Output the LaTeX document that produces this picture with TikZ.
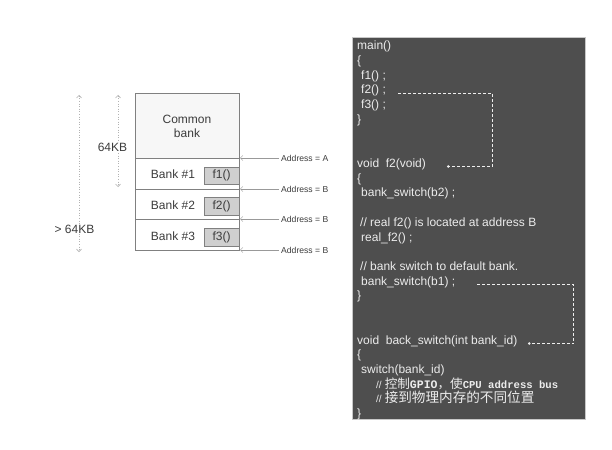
\documentclass[tikz,border=0pt]{standalone}
\usepackage{fontspec}
\setmainfont{Liberation Sans}
\newfontfamily\cjk{Noto Sans CJK SC}
\newfontfamily\monob{Liberation Mono}
\usetikzlibrary{arrows.meta}
\definecolor{panel}{HTML}{4E4E4E}
\definecolor{panelborder}{HTML}{C8C8C8}
\definecolor{codetxt}{HTML}{ECECEC}
\definecolor{labtxt}{HTML}{3C3C3C}
\definecolor{boxline}{HTML}{808080}
\definecolor{fbox}{HTML}{CFCFCF}
\tikzset{
  code/.style={anchor=mid west, inner sep=0pt, text=codetxt, font=\fontsize{12}{14}\selectfont},
  memtext/.style={text=labtxt, font=\fontsize{12}{14}\selectfont, inner sep=0pt, align=center},
  fcall/.style={draw=boxline, fill=fbox, minimum width=35pt, minimum height=17.5pt, inner sep=0pt, text=labtxt, font=\fontsize{12}{14}\selectfont},
  addrlab/.style={anchor=west, inner sep=2pt, text=labtxt, font=\fontsize{8.6}{10}\selectfont},
  addrarrow/.style={draw=gray!80, line width=0.5pt, -{Straight Barb[length=2.5pt,width=5pt]}},
  sizearrow/.style={draw=gray!60, line width=0.6pt, dotted, {Straight Barb[length=2.5pt,width=5pt]}-{Straight Barb[length=2.5pt,width=5pt]}},
  jump/.style={draw=codetxt!90, line width=0.8pt, dash pattern=on 3pt off 2pt, -{Circle[length=2.5pt]}},
}
\newcommand{\cjkA}[1]{{\cjk\fontsize{12.6}{14}\selectfont #1}}
\newcommand{\cjkB}[1]{{\cjk\fontsize{13.6}{14}\selectfont #1}}
\newcommand{\monoA}[1]{{\monob\bfseries\fontsize{11.5}{14}\selectfont #1}}
\newcommand{\monoB}[1]{{\monob\bfseries\fontsize{10.6}{14}\selectfont #1}}
\newcommand{\slashes}{{\fontsize{10}{14}\selectfont //}\hspace{3pt}}
\begin{document}
\begin{tikzpicture}[x=1pt,y=-1pt]
\useasboundingbox (0,0) rectangle (612,449);
\fill[white] (0,0) rectangle (612,449);

% ---------- memory map ----------
\draw[boxline, fill=gray!6] (135,93) rectangle (239,158);
\node[memtext] (common) at (187,126) {Common\\bank};
\coordinate (cse) at (239,158);
\draw[boxline, fill=white] (135,158) rectangle (239,189);
\draw[boxline, fill=white] (135,189) rectangle (239,219);
\draw[boxline, fill=white] (135,219) rectangle (239,250);
\coordinate (b1se) at (239,189);
\coordinate (b2se) at (239,219);
\coordinate (b3se) at (239,250);
\node[memtext] (bank1) at (173,174.5) {Bank \#1};
\node[memtext] (bank2) at (173,205) {Bank \#2};
\node[memtext] (bank3) at (173,236) {Bank \#3};
\node[fcall] (f1) at (221.5,175.5) {f1()};
\node[fcall] (f2) at (221.5,206) {f2()};
\node[fcall] (f3) at (221.5,237) {f3()};

% address labels and arrows
\node[addrlab] (addrA) at (279,158) {Address = A};
\node[addrlab] (addrB1) at (279,189) {Address = B};
\node[addrlab] (addrB2) at (279,219) {Address = B};
\node[addrlab] (addrB3) at (279,250) {Address = B};
\draw[addrarrow] (addrA.west) -- ([xshift=1pt]cse);
\draw[addrarrow] (addrB1.west) -- ([xshift=1pt]b1se);
\draw[addrarrow] (addrB2.west) -- ([xshift=1pt]b2se);
\draw[addrarrow] (addrB3.west) -- ([xshift=1pt]b3se);

% size arrows
\coordinate (s1t) at (118,95);
\coordinate (s1b) at (118,187);
\coordinate (s2t) at (79,95);
\coordinate (s2b) at (79,252);
\draw[sizearrow] (s1t) -- (s1b);
\draw[sizearrow] (s2t) -- (s2b);
\node[memtext, fill=white, inner sep=1pt] (kb64) at (112.5,147) {64KB};
\node[memtext, fill=white, inner sep=1pt] (kbmore) at (74.5,229) {> 64KB};

% ---------- code panel ----------
\draw[panelborder, line width=1pt, fill=panel] (352,37.5) rectangle (585.5,419.5);
\def\ly#1{47+14.72*#1}
\node[code] (c0) at (357,{\ly{0}}) {main()};
\node[code] (c1) at (357,{\ly{1}}) {\{};
\node[code] (c2) at (361,{\ly{2}}) {f1() ;};
\node[code] (c3) at (361,{\ly{3}}) {f2() ;};
\node[code] (c4) at (361,{\ly{4}}) {f3() ;};
\node[code] (c5) at (357,{\ly{5}}) {\}};
\node[code] (c8) at (357,{\ly{8}}) {void\ \ f2(void)};
\node[code] (c9) at (357,{\ly{9}}) {\{};
\node[code] (c10) at (361,{\ly{10}}) {bank\_switch(b2) ;};
\node[code] (c12) at (360,{\ly{12}}) {// real f2() is located at address B};
\node[code] (c13) at (361,{\ly{13}}) {real\_f2() ;};
\node[code] (c15) at (360,{\ly{15}}) {// bank switch to default bank.};
\node[code] (c16) at (361,{\ly{16}}) {bank\_switch(b1) ;};
\node[code] (c17) at (357,{\ly{17}}) {\}};
\node[code] (c20) at (357,{\ly{20}}) {void\ \ back\_switch(int bank\_id)};
\node[code] (c21) at (357,{\ly{21}}) {\{};
\node[code] (c22) at (361,{\ly{22}}) {switch(bank\_id)};
\node[code] (c23) at (376,{\ly{23}}) {\slashes\cjkA{控制}\monoA{GPIO}\cjkA{，使}\monoB{CPU address bus}};
\node[code] (c24) at (376,{\ly{24}}) {\slashes\cjkB{接到物理内存的不同位置}};
\node[code] (c25) at (357,{\ly{25}}) {\}};

% dashed jumps
\coordinate (j1a) at (398,93);
\coordinate (j1b) at (492,93);
\coordinate (j1c) at (492,166.5);
\coordinate (j1d) at (447,166.5);
\draw[jump] (j1a) -- (j1b) -- (j1c) -- (j1d);
\coordinate (j2a) at (477,284);
\coordinate (j2b) at (573.5,284);
\coordinate (j2c) at (573.5,343.5);
\coordinate (j2d) at (528,343.5);
\draw[jump] (j2a) -- (j2b) -- (j2c) -- (j2d);
\end{tikzpicture}
\end{document}
